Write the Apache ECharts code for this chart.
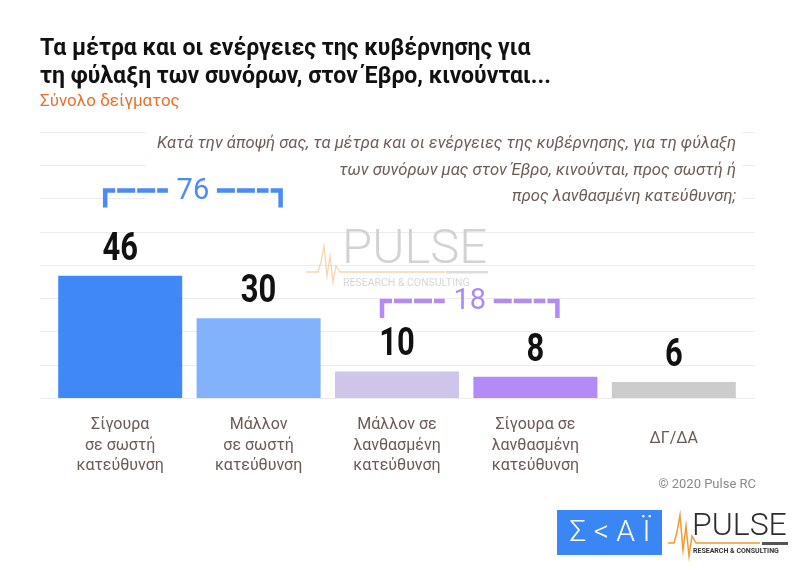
<!DOCTYPE html>
<html>
<head>
    <meta http-equiv="Content-Type" content="text/html; charset=UTF-8">
    <title>Pulse RC - Έβρος</title>
    <style type="text/css">
        body{
            margin:0;
            padding:0;
            background-color:white;
        }
        #main{
            width:800px;
            height:567px;
        }
    </style>
</head>
<body>
<div id="main"></div>
<script src="https://cdn.jsdelivr.net/npm/echarts@6/dist/echarts.min.js"></script>
<script type="text/javascript">
    // δεδομένα
    var categories = [
        'Σίγουρα\nσε σωστή\nκατεύθυνση',
        'Μάλλον\nσε σωστή\nκατεύθυνση',
        'Μάλλον σε\nλανθασμένη\nκατεύθυνση',
        'Σίγουρα σε\nλανθασμένη\nκατεύθυνση',
        'ΔΓ/ΔΑ'
    ];
    var values = [46, 30, 10, 8, 6];
    var barColors = ['#4088f5', '#82b2fb', '#cfc4ea', '#b48bf6', '#cccccc'];
    var yMax = 100;
    var yStep = 12.5;

    var titleText = 'Τα μέτρα και οι ενέργειες της κυβέρνησης για\nτη φύλαξη των συνόρων, στον Έβρο, κινούνται...';
    var subtitleText = 'Σύνολο δείγματος';
    var questionText = 'Κατά την άποψή σας, τα μέτρα και οι ενέργειες της κυβέρνησης, για τη φύλαξη\n' +
        'των συνόρων μας στον Έβρο, κινούνται, προς σωστή ή\n' +
        'προς λανθασμένη κατεύθυνση;';

    // ομαδοποιήσεις (άθροισμα)
    var brackets = [
        {from: 0, to: 1, level: 78, color: '#4a8bf5', textColor: '#4a8bf5'},
        {from: 2, to: 3, level: 36.5, color: '#b48bf6', textColor: '#a98bf3'}
    ];

    var myChart = echarts.init(document.getElementById('main'));

    var catData = categories.map(function(c, i) {
        if (i === categories.length - 1) {
            return {value: c, textStyle: {lineHeight: 48}};
        }
        return c;
    });

    var option = {
        animation: false,
        backgroundColor: '#ffffff',
        grid: [
            {left: 40, right: 45, top: 132, bottom: 169},
            {left: 51, right: 57, top: 132, bottom: 169}
        ],
        xAxis: [
            {gridIndex: 0, type: 'value', min: 0, max: 1, show: false},
            {
                gridIndex: 1,
                type: 'category',
                data: catData,
                axisLine: {show: false},
                axisTick: {show: false},
                axisLabel: {
                    interval: 0,
                    margin: 17,
                    color: '#6b5a53',
                    fontFamily: 'Roboto',
                    fontSize: 16,
                    lineHeight: 20.5,
                    verticalAlign: 'top'
                }
            }
        ],
        yAxis: [
            {
                gridIndex: 0,
                type: 'value',
                min: 0,
                max: yMax,
                interval: yStep,
                axisLine: {show: false},
                axisTick: {show: false},
                axisLabel: {show: false},
                splitLine: {lineStyle: {color: '#ececec', width: 1}}
            },
            {gridIndex: 1, type: 'value', min: 0, max: yMax, show: false, splitLine: {show: false}}
        ],
        series: [{
            type: 'bar',
            xAxisIndex: 1,
            yAxisIndex: 1,
            barWidth: 124,
            data: values.map(function(v, i) {
                return {value: v, itemStyle: {color: barColors[i]}};
            }),
            label: {show: false}
        }]
    };
    myChart.setOption(option);

    var g = [];

    // ετικέτες τιμών (στενά, ψηλά ψηφία)
    values.forEach(function(v, i) {
        var p = myChart.convertToPixel({seriesIndex: 0}, [i, v]);
        g.push({type: 'text', x: p[0], y: p[1] - 26, scaleX: 0.86, scaleY: 1.1, z: 5, style: {
            text: String(v), fill: '#111111', font: 'bold 36px Roboto', align: 'center', verticalAlign: 'middle'
        }});
    });

    // τίτλος
    g.push({type: 'text', left: 40, top: 35, style: {
        text: titleText, fill: '#111111', font: 'bold 23px Roboto', lineHeight: 28
    }});
    g.push({type: 'text', left: 40, top: 93, style: {
        text: subtitleText, fill: '#e8702c', font: '17px Roboto'
    }});

    // ερώτηση
    g.push({type: 'rect', shape: {x: 146, y: 129, width: 596, height: 77}, style: {fill: '#ffffff'}, z: 10});
    g.push({type: 'text', x: 736, y: 131, z: 11, style: {
        text: questionText, fill: '#6d5c55', font: 'italic 16.6px Roboto',
        lineHeight: 26.5, align: 'right', verticalAlign: 'top'
    }});

    // υδατογράφημα
    g.push({type: 'polyline', z: 1, shape: {points: [[306, 272], [318, 272], [321, 262], [324, 246], [327, 276], [330, 256], [333, 282], [336, 266], [340, 272], [445, 272]]},
        style: {stroke: 'rgba(243,178,110,0.55)', lineWidth: 1.3, fill: null}});
    g.push({type: 'rect', z: 1, shape: {x: 446, y: 271, width: 42, height: 2.5}, style: {fill: '#dddddd'}});
    g.push({type: 'text', x: 342, y: 251, z: 1, style: {
        text: 'PULSE', fill: '#d2d2d2', font: '300 49px Roboto', verticalAlign: 'middle'
    }});
    g.push({type: 'text', x: 343, y: 283, z: 1, style: {
        text: 'RESEARCH & CONSULTING', fill: '#d6d6d6', font: '10.5px Roboto', verticalAlign: 'middle'
    }});

    // αγκύλες αθροισμάτων
    brackets.forEach(function(b) {
        var pL = myChart.convertToPixel({seriesIndex: 0}, [b.from, b.level]);
        var pR = myChart.convertToPixel({seriesIndex: 0}, [b.to, b.level]);
        var xl = pL[0] - 15, xr = pR[0] + 22, y = pL[1];
        var xm = (xl + xr) / 2;
        var total = 0;
        for (var i = b.from; i <= b.to; i++) total += values[i];
        var ls = {stroke: b.color, lineWidth: 4.5, fill: null};
        g.push({type: 'polyline', z: 12, shape: {points: [[xl, y + 17], [xl, y], [xl + 10, y]]}, style: ls});
        g.push({type: 'polyline', z: 12, shape: {points: [[xr - 10, y], [xr, y], [xr, y + 17]]}, style: ls});
        g.push({type: 'line', z: 12, shape: {x1: xl + 12, y1: y, x2: xm - 25, y2: y},
            style: {stroke: b.color, lineWidth: 4.5, lineDash: [18, 2]}});
        g.push({type: 'line', z: 12, shape: {x1: xm + 24, y1: y, x2: xr - 12, y2: y},
            style: {stroke: b.color, lineWidth: 4.5, lineDash: [18, 2]}});
        g.push({type: 'text', x: xm, y: y + 1, z: 12, style: {
            text: String(total), fill: b.textColor, font: '29px Roboto', align: 'center', verticalAlign: 'middle'
        }});
    });

    // υποσέλιδο
    g.push({type: 'text', x: 756, y: 485, style: {
        text: '© 2020 Pulse RC', fill: '#8a8a8a', font: '13px Roboto', align: 'right', verticalAlign: 'middle'
    }});
    g.push({type: 'rect', shape: {x: 557, y: 510, width: 105, height: 45}, style: {fill: '#3b86f5'}});
    g.push({type: 'text', x: 610, y: 533, style: {
        text: 'Σ < Α Ϊ', fill: '#ffffff', font: '300 30px Roboto', align: 'center', verticalAlign: 'middle'
    }});
    g.push({type: 'polyline', shape: {points: [[668, 543], [674, 543], [677, 532], [680, 515], [683, 550], [686, 526], [689, 556], [692, 536], [696, 543], [760, 543]]},
        style: {stroke: '#f29a2e', lineWidth: 1.5, fill: null}});
    g.push({type: 'rect', shape: {x: 762, y: 542, width: 26, height: 3}, style: {fill: '#555555'}});
    g.push({type: 'text', x: 692, y: 527, style: {
        text: 'PULSE', fill: '#2d2d2d', font: '300 32px Roboto', verticalAlign: 'middle'
    }});
    g.push({type: 'text', x: 693, y: 551, style: {
        text: 'RESEARCH & CONSULTING', fill: '#333333', font: 'bold 7px Roboto', verticalAlign: 'middle'
    }});

    myChart.setOption({graphic: g});
</script>
</body>
</html>
